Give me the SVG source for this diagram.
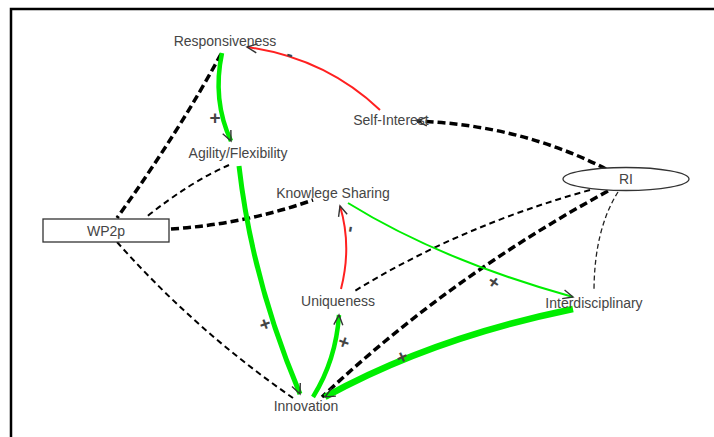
<svg xmlns="http://www.w3.org/2000/svg" width="714" height="437" viewBox="0 0 714 437">
<style>
.lbl{font-family:"Liberation Sans",Arial,sans-serif;font-size:14px;fill:#454545;text-anchor:middle}
.sign{font-family:"Liberation Sans",Arial,sans-serif;font-size:19px;font-weight:bold;fill:#444;text-anchor:middle;dominant-baseline:central}
.e{fill:none}
.pos{stroke:#00ee00}
.neg{stroke:#ff2020;stroke-width:2}
.dk{stroke:#000;stroke-width:3.5;stroke-dasharray:8 4}
.dm{stroke:#000;stroke-width:2;stroke-dasharray:6 4}
.ds{stroke:#222;stroke-width:1.3;stroke-dasharray:5 3}
</style>
<defs>
<marker id="ar" markerWidth="14" markerHeight="12" refX="12" refY="6" orient="auto" markerUnits="userSpaceOnUse" viewBox="0 0 14 12">
<path d="M2,1.5 L12,6 L2,10.5" fill="none" stroke="#333" stroke-width="1.4"/>
</marker>
</defs>
<rect width="714" height="437" fill="#fff"/>
<path d="M11,437 V9 H714" fill="none" stroke="#000" stroke-width="2.5"/>
<g id="connectors">
<path class="e dk" d="M221,54 Q180,130 117,218"/>
<path class="e dm" d="M229,165 Q190,182 145,218"/>
<path class="e dk" d="M171,229 Q245,224 313,200"/>
<path class="e dm" d="M117,242 Q195,330 293,398"/>
<path class="e dm" d="M590,190 Q460,226 353,292"/>
<path class="e ds" d="M618,192 Q594,230 594,292"/>
<path class="e dk" d="M606,169 Q520,125 417,121" marker-end="url(#ar)"/>
<path class="e dk" d="M608,191 Q448,278 322,397"/>
<path class="e neg" d="M380,110 Q325,58 247,47" marker-end="url(#ar)"/>
<path class="e pos" stroke-width="4.5" d="M222,53 Q212,100 231,141" marker-end="url(#ar)"/>
<path class="e pos" stroke-width="5" d="M239,166 Q252,280 300,394" marker-end="url(#ar)"/>
<path class="e pos" stroke-width="4.5" d="M313,397 Q336,360 339,315" marker-end="url(#ar)"/>
<path class="e neg" d="M341,289 Q352,246 340,206" marker-end="url(#ar)"/>
<path class="e pos" stroke-width="2" d="M348,203 Q440,260 573,297" marker-end="url(#ar)"/>
<path class="e pos" stroke-width="6.5" d="M573,309 Q432,338 325,397" marker-end="url(#ar)"/>
<text class="sign" x="290" y="54" transform="rotate(15 290 54)">-</text>
<text class="sign" x="215" y="117">+</text>
<text class="sign" x="265" y="324" transform="rotate(-20 265 324)">+</text>
<text class="sign" x="344" y="342" transform="rotate(20 344 342)">+</text>
<text class="sign" x="349" y="229" transform="rotate(-80 349 229)">-</text>
<text class="sign" x="494" y="282" transform="rotate(35 494 282)">+</text>
<text class="sign" x="402" y="357" transform="rotate(-25 402 357)">+</text>
</g>
<g id="WP2p">
<rect x="43" y="219" width="126" height="23" fill="#fff" stroke="#333" stroke-width="1.3"/>
<text class="lbl" x="106" y="236">WP2p</text>
</g>
<g id="RI">
<ellipse cx="626" cy="179" rx="63" ry="11.5" fill="#fff" stroke="#333" stroke-width="1.3"/>
<text class="lbl" x="626" y="184">RI</text>
</g>
<g id="Responsiveness"><text class="lbl" x="225" y="46">Responsiveness</text></g>
<g id="Agility"><text class="lbl" x="238" y="158">Agility/Flexibility</text></g>
<g id="SelfInterest"><text class="lbl" x="391" y="125">Self-Interest</text></g>
<g id="KnowlegeSharing"><text class="lbl" x="333" y="198">Knowlege Sharing</text></g>
<g id="Uniqueness"><text class="lbl" x="338" y="306">Uniqueness</text></g>
<g id="Innovation"><text class="lbl" x="306" y="411">Innovation</text></g>
<g id="Interdisciplinary"><text class="lbl" x="594" y="308">Interdisciplinary</text></g>
</svg>
